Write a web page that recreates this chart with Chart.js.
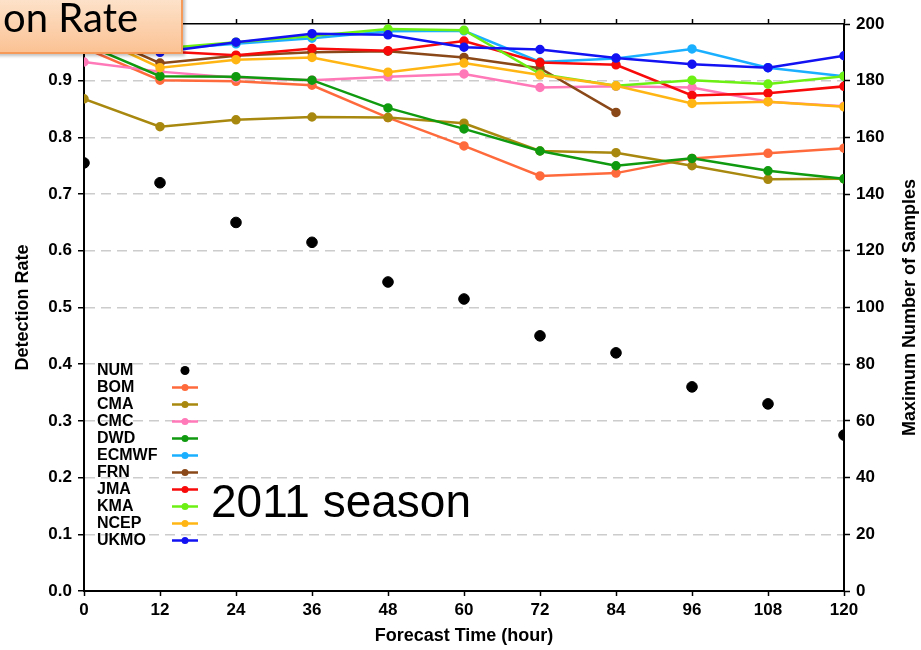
<!DOCTYPE html>
<html>
<head>
<meta charset="utf-8">
<script src="https://cdn.jsdelivr.net/npm/chart.js@4.4.1/dist/chart.umd.min.js"></script>
<style>
  html, body { margin: 0; padding: 0; background: #fff; }
  #wrap { position: relative; width: 921px; height: 650px; overflow: hidden; }
  #chart { position: absolute; left: 0; top: 0; }
  #banner {
    position: absolute; left: -6px; top: -6px; width: 189px; height: 60px;
    box-sizing: border-box; border: 2px solid #f59a58;
    background: linear-gradient(#fde4cd, #fbc294);
    box-shadow: 2px 2px 3px rgba(0,0,0,0.25);
  }
  #banner span {
    position: absolute; right: 43px; top: 1px;
    font-family: Lato, "Open Sans", sans-serif; font-size: 40px; line-height: 40px;
    color: #000; white-space: nowrap;
  }
</style>
</head>
<body>
<div id="wrap">
  <canvas id="chart" width="921" height="650"></canvas>
  <div id="banner"><span>on Rate</span></div>
</div>
<script>
// Forecast lead times (hours)
const hours = [0, 12, 24, 36, 48, 60, 72, 84, 96, 108, 120];

// Maximum number of verified samples at each lead time (right axis)
const sampleCounts = [151, 144, 130, 123, 109, 103, 90, 84, 72, 66, 55];

// Detection rate per ensemble centre (left axis)
const bom   = [0.958, 0.901, 0.899, 0.892, 0.835, 0.785, 0.732, 0.737, 0.763, 0.772, 0.781];
const cma   = [0.868, 0.819, 0.831, 0.836, 0.835, 0.825, 0.776, 0.773, 0.750, 0.726, 0.727];
const cmc   = [0.933, 0.916, 0.905, 0.901, 0.907, 0.912, 0.888, 0.890, 0.888, 0.863, 0.855];
const dwd   = [0.965, 0.908, 0.907, 0.901, 0.852, 0.815, 0.776, 0.750, 0.763, 0.741, 0.727];
const ecmwf = [0.970, 0.955, 0.965, 0.975, 0.987, 0.988, 0.933, 0.939, 0.956, 0.923, 0.908];
const frn   = [0.990, 0.931, 0.944, 0.950, 0.952, 0.941, 0.922, 0.844, null, null, null];
const jma   = [0.970, 0.952, 0.945, 0.957, 0.953, 0.970, 0.932, 0.928, 0.874, 0.878, 0.890];
const kma   = [0.975, 0.957, 0.968, 0.979, 0.991, 0.989, 0.912, 0.891, 0.901, 0.894, 0.908];
const ncep  = [0.985, 0.923, 0.937, 0.941, 0.915, 0.931, 0.910, 0.891, 0.860, 0.863, 0.854];
const ukmo  = [0.960, 0.950, 0.968, 0.983, 0.981, 0.959, 0.955, 0.940, 0.929, 0.923, 0.944];

const centreNames  = ['BOM', 'CMA', 'CMC', 'DWD', 'ECMWF', 'FRN', 'JMA', 'KMA', 'NCEP', 'UKMO'];
const centreValues = [bom, cma, cmc, dwd, ecmwf, frn, jma, kma, ncep, ukmo];
const centreColors = ['#ff6a3c', '#a8880e', '#ff78b8', '#109a10', '#1ab0ff',
                      '#8a4818', '#f80a0a', '#6cf014', '#ffb614', '#1212f2'];

const FONT = '"Liberation Sans", Arial, Helvetica, sans-serif';
Chart.defaults.font.family = FONT;
Chart.defaults.color = '#000';

const toPoints = vals => hours.map((h, i) => ({ x: h, y: vals[i] }));

const datasets = [{
  label: 'NUM',
  data: toPoints(sampleCounts),
  yAxisID: 'y2',
  showLine: false,
  pointRadius: 5.3,
  pointBackgroundColor: '#000',
  pointBorderColor: '#000',
  borderColor: '#000',
  backgroundColor: '#000',
  clip: 0,
  order: 0
}];
centreNames.forEach((name, i) => {
  datasets.push({
    label: name,
    data: toPoints(centreValues[i]),
    yAxisID: 'y',
    borderColor: centreColors[i],
    backgroundColor: centreColors[i],
    pointBackgroundColor: centreColors[i],
    pointBorderColor: centreColors[i],
    borderWidth: 2.5,
    pointRadius: 3.5,
    spanGaps: false,
    tension: 0,
    clip: 0,
    order: 20 - i
  });
});

// Legend panel inside the plot: names on the left, line samples to the right
const legendPanel = {
  id: 'legendPanel',
  afterDatasetsDraw(chart) {
    const ctx = chart.ctx;
    ctx.save();
    ctx.font = 'bold 16px ' + FONT;
    ctx.textBaseline = 'middle';
    ctx.textAlign = 'left';
    chart.data.datasets.forEach((ds, i) => {
      const y = 370.5 + i * 17;
      ctx.fillStyle = '#000';
      ctx.fillText(ds.label, 97, y);
      if (ds.showLine === false) {
        ctx.beginPath();
        ctx.arc(185, y, 4.5, 0, Math.PI * 2);
        ctx.fillStyle = ds.pointBackgroundColor;
        ctx.fill();
      } else {
        ctx.beginPath();
        ctx.moveTo(172, y);
        ctx.lineTo(198, y);
        ctx.lineWidth = 2.5;
        ctx.strokeStyle = ds.borderColor;
        ctx.stroke();
        ctx.beginPath();
        ctx.arc(185, y, 3.5, 0, Math.PI * 2);
        ctx.fillStyle = ds.pointBackgroundColor;
        ctx.fill();
      }
    });
    ctx.restore();
  }
};

// Season caption and the right-hand axis title (reads bottom to top)
const annotations = {
  id: 'annotations',
  afterDraw(chart) {
    const ctx = chart.ctx;
    const area = chart.chartArea;
    ctx.save();
    ctx.fillStyle = '#000';
    ctx.font = '46px ' + FONT;
    ctx.textAlign = 'left';
    ctx.textBaseline = 'alphabetic';
    ctx.fillText('2011 season', 211, 517);

    ctx.translate(910, (area.top + area.bottom) / 2);
    ctx.rotate(-Math.PI / 2);
    ctx.font = 'bold 18px ' + FONT;
    ctx.textAlign = 'center';
    ctx.textBaseline = 'middle';
    ctx.fillText('Maximum Number of Samples', 0, 0);
    ctx.restore();
  }
};

const tickFont = { family: FONT, size: 17, weight: 'bold' };
const titleFont = { family: FONT, size: 18, weight: 'bold' };
const axisBorder = { display: true, color: '#000', width: 2 };

new Chart(document.getElementById('chart'), {
  type: 'line',
  data: { datasets },
  options: {
    responsive: false,
    animation: false,
    devicePixelRatio: 1,
    layout: { padding: 0 },
    plugins: { legend: { display: false }, tooltip: { enabled: false } },
    scales: {
      x: {
        type: 'linear', position: 'bottom', min: 0, max: 120,
        ticks: { stepSize: 12, font: tickFont, padding: 4, maxRotation: 0 },
        grid: { drawOnChartArea: false, tickLength: 5, tickColor: '#000', tickWidth: 1.5 },
        border: axisBorder,
        title: { display: true, text: 'Forecast Time (hour)', font: titleFont, padding: { top: 0, bottom: 3 } },
        afterFit(s) { s.height = 59; }
      },
      xTop: {
        type: 'linear', position: 'top', min: 0, max: 120,
        ticks: { stepSize: 12, display: false },
        grid: { drawOnChartArea: false, tickLength: 5, tickColor: '#000', tickWidth: 1.5 },
        border: { display: true, color: '#000', width: 1.5 },
        afterFit(s) { s.height = 24; }
      },
      y: {
        position: 'left', min: 0, max: 1,
        ticks: {
          stepSize: 0.1, font: tickFont, padding: 6,
          callback: v => (v >= 0.999 ? '' : v.toFixed(1))
        },
        grid: {
          color: c => (c.tick && c.tick.value > 0.001 && c.tick.value < 0.999) ? '#cccccc' : 'rgba(0,0,0,0)',
          lineWidth: 1.5, tickLength: 6, tickColor: '#000', tickWidth: 1.5
        },
        border: { display: true, color: '#000', width: 2, dash: [10, 6] },
        title: { display: true, text: 'Detection Rate', font: titleFont, padding: { top: 12, bottom: 0 } },
        afterFit(s) { s.width = 84; }
      },
      y2: {
        position: 'right', min: 0, max: 200,
        ticks: { stepSize: 20, font: tickFont, padding: 6 },
        grid: { drawOnChartArea: false, tickLength: 6, tickColor: '#000', tickWidth: 1.5 },
        border: axisBorder,
        afterFit(s) { s.width = 77; }
      }
    }
  },
  plugins: [legendPanel, annotations]
});
</script>
</body>
</html>
